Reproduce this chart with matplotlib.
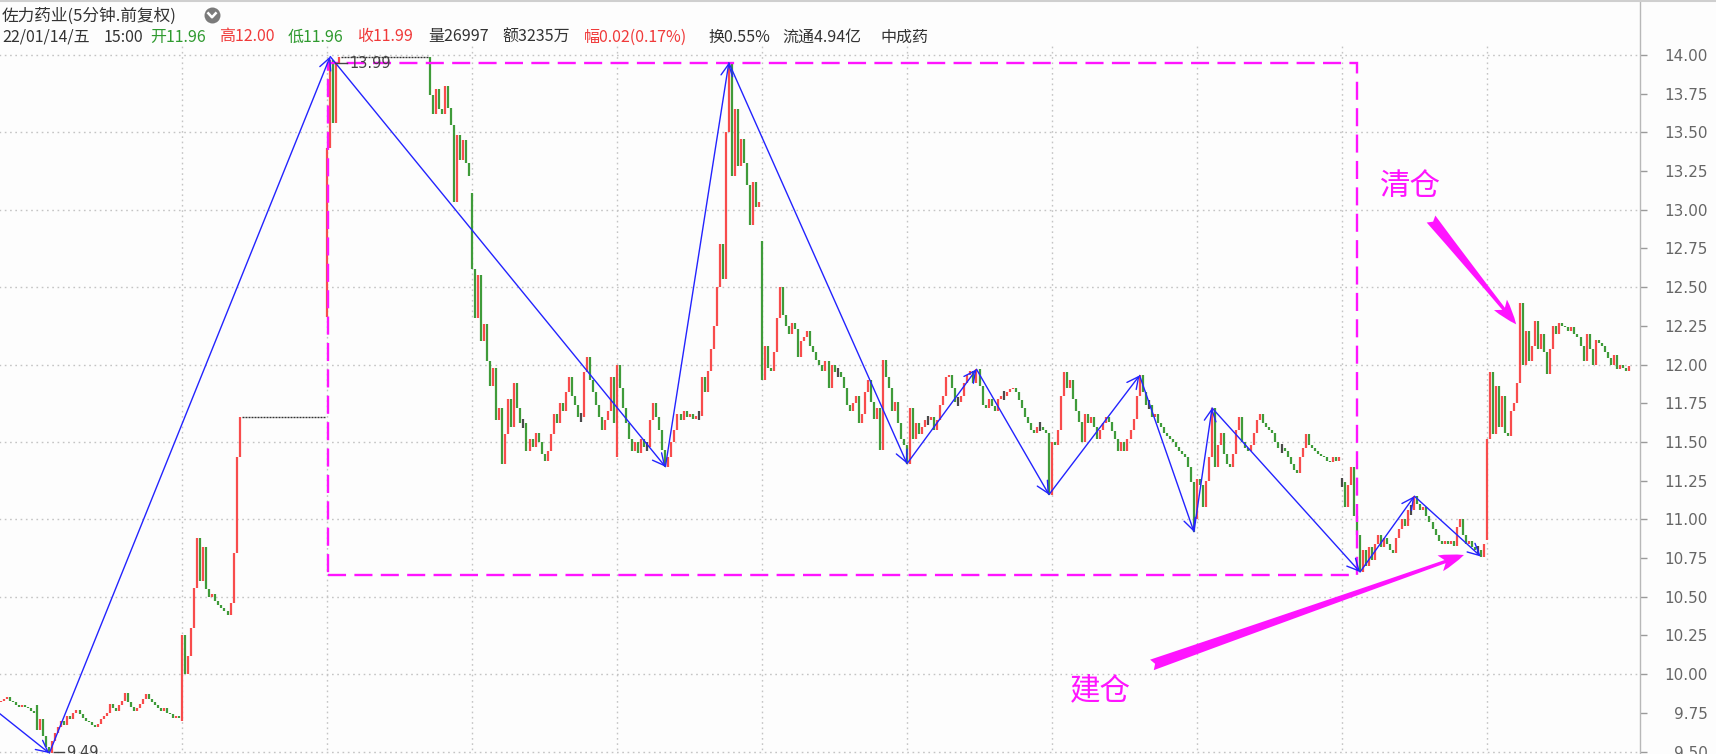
import numpy as np
import matplotlib
matplotlib.use("Agg")
import matplotlib.pyplot as plt
from matplotlib.patches import Rectangle
from matplotlib.lines import Line2D

plt.rcParams['font.family'] = ['Noto Sans CJK SC', 'DejaVu Sans']
plt.rcParams['lines.scale_dashes'] = False

# ---------------- data (5-minute bars, close prices per trading day) ----------------
day_opens = [9.82, 9.80, 9.70, 12.31, 13.11, 11.40, 12.80, 11.48, 11.16, 11.00, 11.24, 10.87]

d0 = [9.83, 9.84, 9.85, 9.83, 9.82, 9.80, 9.79, 9.80, 9.79, 9.78, 9.76, 9.75]
d1 = [9.64, 9.71, 9.60, 9.53, 9.49, 9.57, 9.62, 9.66, 9.70, 9.67, 9.73, 9.71,
      9.75, 9.77, 9.74, 9.72, 9.70, 9.69, 9.67, 9.66, 9.68, 9.71, 9.73, 9.75,
      9.81, 9.78, 9.76, 9.80, 9.83, 9.88, 9.82, 9.79, 9.76, 9.78, 9.81, 9.84,
      9.87, 9.84, 9.82, 9.80, 9.78, 9.76, 9.78, 9.75, 9.74, 9.72, 9.73, 9.72]
d2 = [10.25, 10.00, 10.12, 10.30, 10.56, 10.88, 10.60, 10.82, 10.55, 10.50, 10.52, 10.47,
      10.45, 10.43, 10.41, 10.38, 10.46, 10.78, 11.40, 11.66,
      11.66, 11.66, 11.66, 11.66, 11.66, 11.66, 11.66, 11.66, 11.66, 11.66, 11.66, 11.66, 11.66, 11.66,
      11.66, 11.66, 11.66, 11.66, 11.66, 11.66, 11.66, 11.66, 11.66, 11.66, 11.66, 11.66, 11.66, 11.66]
d3 = [13.40, 13.97, 13.56, 13.95, 13.99,
      13.99, 13.99, 13.99, 13.99, 13.99, 13.99, 13.99, 13.99, 13.99, 13.99,
      13.99, 13.99, 13.99, 13.99, 13.99, 13.99, 13.99, 13.99, 13.99, 13.99,
      13.99, 13.99, 13.99, 13.99, 13.99, 13.99, 13.99, 13.99, 13.99,
      13.74, 13.62, 13.78, 13.65, 13.62, 13.80, 13.66, 13.55, 13.05, 13.48, 13.32, 13.45, 13.30, 13.22]
d4 = [12.62, 12.30, 12.58, 12.15, 12.26, 12.02, 11.86, 11.98, 11.64, 11.72, 11.36, 11.55,
      11.78, 11.60, 11.88, 11.72, 11.62, 11.62, 11.44, 11.52, 11.47, 11.56, 11.50, 11.42,
      11.38, 11.44, 11.55, 11.68, 11.62, 11.75, 11.70, 11.82, 11.92, 11.80, 11.74, 11.66,
      11.66, 11.95, 12.05, 11.90, 11.82, 11.74, 11.66, 11.58, 11.64, 11.70, 11.92, 11.62]
d5 = [12.00, 11.85, 11.72, 11.62, 11.52, 11.44, 11.50, 11.43, 11.52, 11.47, 11.47, 11.64,
      11.75, 11.66, 11.58, 11.45, 11.34, 11.40, 11.50, 11.58, 11.68, 11.64, 11.70, 11.66,
      11.68, 11.65, 11.67, 11.67, 11.92, 11.82, 11.96, 12.10, 12.25, 12.50, 12.78, 12.55,
      13.50, 13.95, 13.22, 13.65, 13.28, 13.46, 13.30, 13.16, 12.90, 13.18, 13.02, 13.05]
d6 = [11.90, 12.12, 11.98, 11.96, 12.08, 12.30, 12.50, 12.32, 12.25, 12.20, 12.27, 12.23,
      12.05, 12.15, 12.18, 12.22, 12.12, 12.08, 12.03, 12.00, 11.96, 12.02, 11.85, 12.00,
      11.95, 11.95, 11.92, 11.85, 11.74, 11.70, 11.75, 11.80, 11.62, 11.68, 11.82, 11.90,
      11.76, 11.65, 11.72, 11.45, 12.03, 11.92, 11.85, 11.70, 11.76, 11.62, 11.52, 11.48]
d7 = [11.36, 11.72, 11.52, 11.62, 11.55, 11.60, 11.64, 11.64, 11.66, 11.58, 11.64, 11.74,
      11.80, 11.92, 11.93, 11.85, 11.76, 11.76, 11.80, 11.88, 11.93, 11.96, 11.88, 11.97,
      11.86, 11.74, 11.72, 11.78, 11.73, 11.70, 11.78, 11.80, 11.80, 11.82, 11.84, 11.85,
      11.82, 11.77, 11.72, 11.66, 11.62, 11.58, 11.56, 11.60, 11.60, 11.58, 11.56, 11.16]
d8 = [11.50, 11.48, 11.58, 11.80, 11.95, 11.85, 11.90, 11.78, 11.70, 11.63, 11.50, 11.68,
      11.62, 11.66, 11.60, 11.52, 11.58, 11.62, 11.66, 11.63, 11.57, 11.52, 11.44, 11.50,
      11.44, 11.52, 11.58, 11.65, 11.80, 11.93, 11.82, 11.74, 11.74, 11.66, 11.68, 11.62,
      11.60, 11.56, 11.54, 11.52, 11.50, 11.47, 11.44, 11.42, 11.40, 11.34, 11.24, 10.92]
d9 = [11.26, 11.22, 11.08, 11.25, 11.40, 11.72, 11.34, 11.48, 11.56, 11.42, 11.36, 11.34,
      11.42, 11.58, 11.66, 11.50, 11.46, 11.44, 11.48, 11.56, 11.64, 11.68, 11.62, 11.60,
      11.58, 11.56, 11.50, 11.46, 11.46, 11.44, 11.40, 11.36, 11.32, 11.30, 11.40, 11.46,
      11.55, 11.48, 11.46, 11.44, 11.42, 11.41, 11.40, 11.38, 11.37, 11.40, 11.38, 11.40]
d10 = [11.24, 11.08, 11.22, 11.34, 11.02, 10.90, 10.66, 10.80, 10.70, 10.82, 10.74, 10.84,
       10.90, 10.82, 10.88, 10.84, 10.80, 10.78, 10.88, 10.94, 11.00, 10.96, 11.06, 11.06,
       11.15, 11.10, 11.06, 11.08, 11.02, 10.98, 10.94, 10.90, 10.86, 10.84, 10.86, 10.84,
       10.86, 10.83, 10.95, 11.00, 10.90, 10.84, 10.86, 10.82, 10.80, 10.80, 10.76, 10.84]
d11 = [11.52, 11.95, 11.55, 11.86, 11.60, 11.80, 11.56, 11.54, 11.70, 11.75, 11.88, 12.40,
       12.00, 12.22, 12.02, 12.12, 12.28, 12.10, 12.20, 12.08, 11.94, 12.10, 12.25, 12.20,
       12.27, 12.25, 12.24, 12.22, 12.24, 12.20, 12.18, 12.12, 12.02, 12.20, 12.10, 12.00,
       12.16, 12.14, 12.12, 12.08, 12.04, 12.00, 12.06, 11.97, 12.00, 11.98, 11.96, 11.99]
days = [d0, d1, d2, d3, d4, d5, d6, d7, d8, d9, d10, d11]

# zigzag turning points (bar index, price)
zz_bar = [-0.4, 16, 109, 220, 241, 300, 323, 347, 377, 395, 401, 450, 468, 490]
zz_price = [9.745, 9.49, 13.99, 11.34, 13.95, 11.36, 11.97, 11.16, 11.93, 10.92, 11.72, 10.66, 11.15, 10.76]

# consolidation box (bar range, price range)
box_bars = (108.3, 449.0)
box_prices = (10.64, 13.95)

yticks = [9.50, 9.75, 10.00, 10.25, 10.50, 10.75, 11.00, 11.25, 11.50, 11.75,
          12.00, 12.25, 12.50, 12.75, 13.00, 13.25, 13.50, 13.75, 14.00]

header_title = "佐力药业(5分钟.前复权)"
header_items = [("22/01/14/五", 'dark'), ("15:00", 'dark'), ("开11.96", 'green'), ("高12.00", 'red'),
                ("低11.96", 'green'), ("收11.99", 'red'), ("量26997", 'dark'), ("额3235万", 'dark'),
                ("幅0.02(0.17%)", 'red'), ("换0.55%", 'dark'), ("流通4.94亿", 'dark'), ("中成药", 'dark')]
header_x = [2, 104, 150, 219, 288, 357, 428, 502, 584, 708, 782, 880]

# ---------------- build OHLC ----------------
opens, closes = [], []
for o0, d in zip(day_opens, days):
    prev = o0
    for c in d:
        opens.append(prev)
        closes.append(c)
        prev = c
o = np.array(opens)
c = np.array(closes)
n = len(c)
x = np.arange(n)
day_starts = np.cumsum([len(d) for d in days])[:-1]

RED = '#f84c4c'
GREEN = '#3f9b3a'
GREY = '#4a4a4a'
MAG = '#ff14ff'
BLUE = '#2323ff'
DARK = '#333333'
cmap = {'dark': DARK, 'green': '#2f9a2f', 'red': '#f03a3a'}

W, H = 1716, 754
fig = plt.figure(figsize=(W / 100, H / 100), dpi=100, facecolor='#fdfdfd')
ax = fig.add_axes([0, 0, 1640 / W, 1])
ax.set_facecolor('#fdfdfd')

ax.set_xlim(-0.33, 542.7)
ax.set_ylim(9.4845, 14.355)

# grid
for p in np.arange(9.5, 14.01, 0.5):
    ax.plot([-1, n + 5], [p, p], color='#c4c4c4', lw=1.0, ls=(0, (1.2, 2.6)), zorder=0)
ax.vlines(day_starts[1:], 9.40, 14.07, color='#c4c4c4', lw=1.0, ls=(0, (1.2, 2.6)), zorder=0)

# candles
eq = np.isclose(c, o)
up = (c > o) & ~eq
dn = (c < o) & ~eq
flat = np.zeros(n, bool)
for i in range(n):
    if eq[i]:
        nb = (i > 0 and eq[i - 1] and np.isclose(c[i - 1], c[i])) or \
             (i < n - 1 and eq[i + 1] and np.isclose(c[i + 1], c[i]))
        flat[i] = nb
doji = eq & ~flat
ax.vlines(x[up], o[up], c[up], color=RED, lw=1.6, zorder=3)
ax.vlines(x[dn], c[dn], o[dn], color=GREEN, lw=1.6, zorder=3)
ax.vlines(x[doji], c[doji] - 0.03, c[doji] + 0.03, color=GREY, lw=1.6, zorder=3)
ax.hlines(c[flat], x[flat] - 0.33, x[flat] + 0.33, color='#333333', lw=1.0, zorder=3)

# box
ax.add_patch(Rectangle((box_bars[0], box_prices[0]), box_bars[1] - box_bars[0],
                       box_prices[1] - box_prices[0], fill=False, edgecolor=MAG,
                       lw=1.7, ls=(0, (13, 6)), zorder=4))

# zigzag with arrowheads
for k in range(len(zz_bar) - 1):
    ax.annotate('', xy=(zz_bar[k + 1], zz_price[k + 1]), xytext=(zz_bar[k], zz_price[k]),
                arrowprops=dict(arrowstyle='->,head_length=0.6,head_width=0.3', color=BLUE,
                                lw=1.0, shrinkA=0, shrinkB=0, mutation_scale=14), zorder=5)

# high / low labels
ax.plot([110.5, 114.5], [13.945, 13.945], color='#444444', lw=1.0, zorder=6)
ax.text(115.5, 13.945, '13.99', fontsize=10.5, color='#444444', va='center', ha='left',
        family='DejaVu Sans', zorder=6)
ax.plot([17.5, 21.0], [9.495, 9.495], color='#444444', lw=1.0, zorder=6)
ax.text(21.5, 9.495, '9.49', fontsize=10.5, color='#444444', va='center', ha='left',
        family='DejaVu Sans', zorder=6)

# annotations
ax.text(466.6, 13.15, '清仓', fontsize=22, color=MAG, ha='center', va='center', zorder=7)
ax.annotate('', xy=(501.7, 12.26), xytext=(473.5, 12.94),
            arrowprops=dict(arrowstyle='fancy,head_length=0.9,head_width=0.6,tail_width=0.4',
                            color=MAG, lw=0, shrinkA=0, shrinkB=0, mutation_scale=20), zorder=7)
ax.text(364.0, 9.89, '建仓', fontsize=22, color=MAG, ha='center', va='center', zorder=7)
ax.annotate('', xy=(484.4, 10.77), xytext=(381.1, 10.06),
            arrowprops=dict(arrowstyle='fancy,head_length=0.9,head_width=0.6,tail_width=0.4',
                            color=MAG, lw=0, shrinkA=0, shrinkB=0, mutation_scale=20), zorder=7)

# axes styling
for s in ['top', 'left', 'bottom']:
    ax.spines[s].set_visible(False)
ax.spines['right'].set_color('#b8b8b8')
ax.spines['right'].set_linewidth(1.0)
ax.set_xticks([])
ax.yaxis.tick_right()
ax.set_yticks(yticks)
ax.set_yticklabels([f"{v:.2f}" for v in yticks])
ax.tick_params(axis='y', direction='out', length=5, width=1, color='#9a9a9a', pad=44,
               labelsize=11, labelcolor='#666666')
for lab in ax.get_yticklabels():
    lab.set_horizontalalignment('right')
    lab.set_family('DejaVu Sans')


# header
def fx(px):
    return px / W


def fy(py):
    return 1 - py / H


fig.text(fx(2), fy(16), header_title, fontsize=12, color=DARK, va='center', ha='left')
fig.lines.append(Line2D([fx(212)], [fy(15)], transform=fig.transFigure, marker='o', ms=11.5,
                        mfc='#7a7a7a', mec='none', ls='none', zorder=10))
fig.lines.append(Line2D([fx(208.3), fx(212), fx(215.7)], [fy(13.3), fy(17.3), fy(13.3)],
                        transform=fig.transFigure, color='white', lw=1.8, zorder=11))
for (txt, col), px in zip(header_items, header_x):
    fig.text(fx(px), fy(37), txt, fontsize=11.5, color=cmap[col], va='center', ha='left')

fig.lines.append(Line2D([0, 1], [fy(1), fy(1)], transform=fig.transFigure, color='#cfcfcf', lw=1.5))

fig.savefig('out.png', dpi=100, facecolor=fig.get_facecolor())
